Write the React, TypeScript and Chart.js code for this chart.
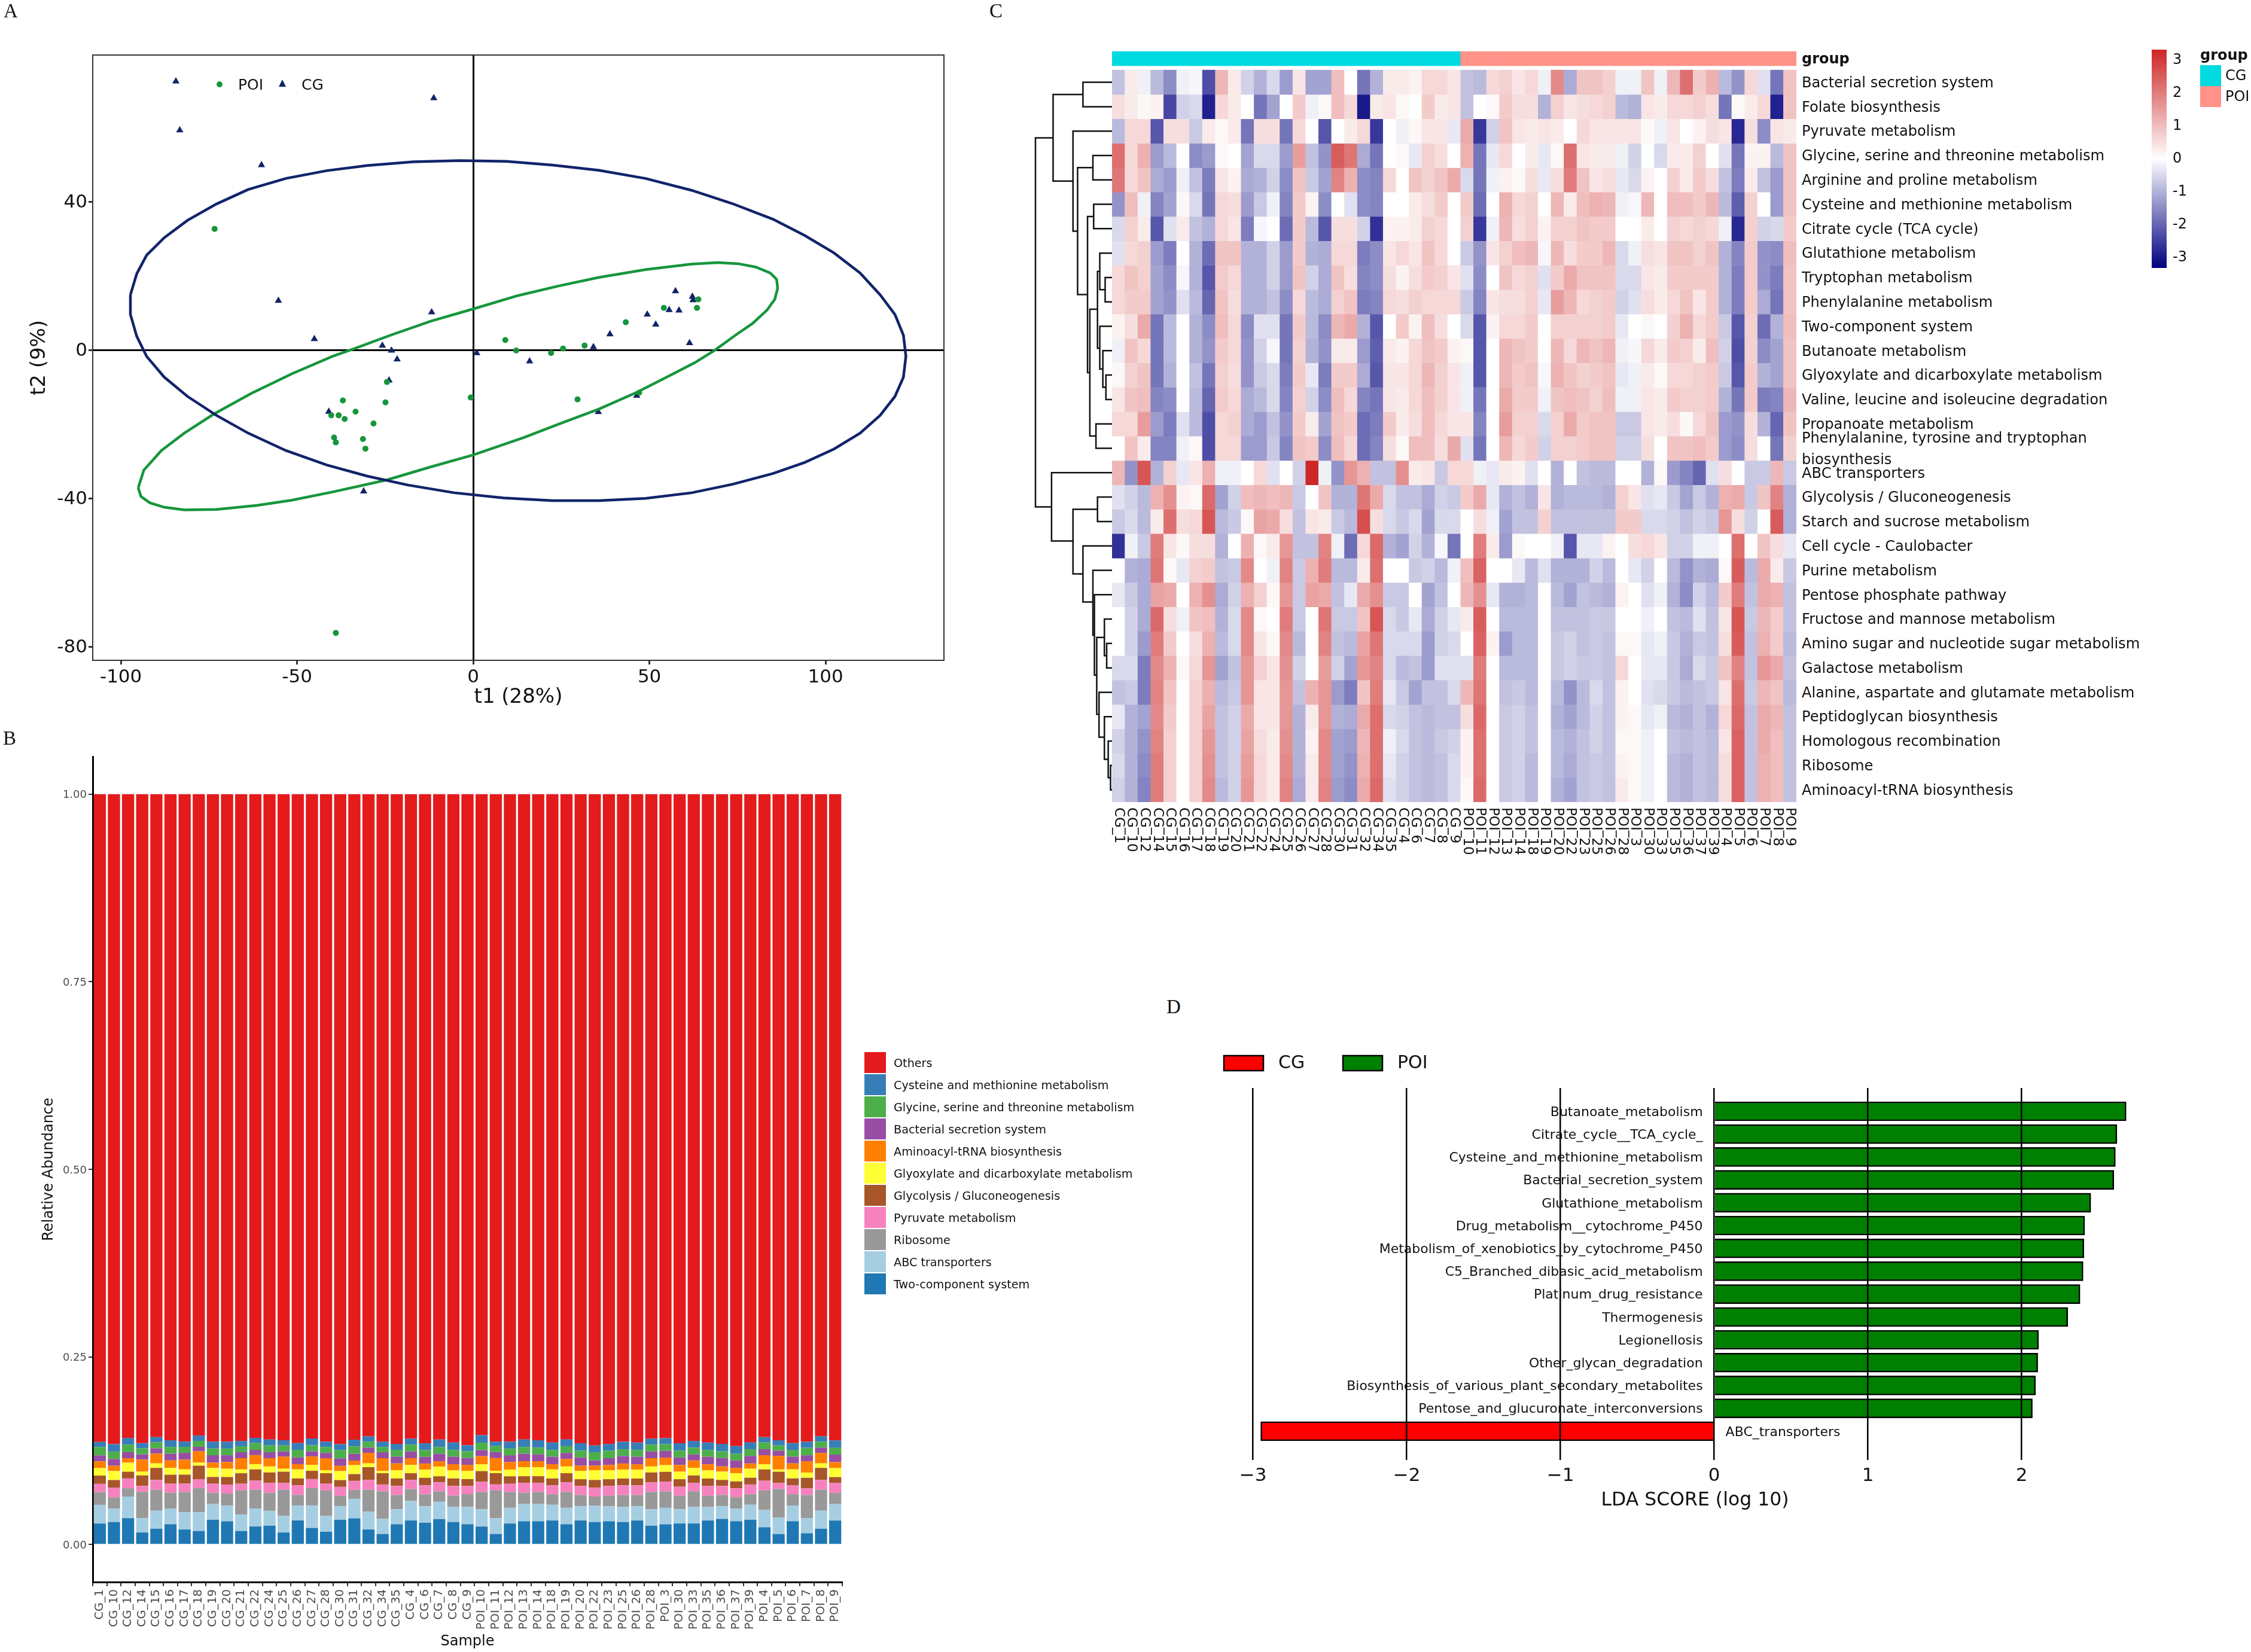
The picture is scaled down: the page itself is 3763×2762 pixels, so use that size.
import React, { useEffect, useRef } from "react";
import { Chart, registerables } from "chart.js";

Chart.register(...registerables);
const FONT = "'DejaVu Sans', sans-serif";
Chart.defaults.font.family = FONT;
Chart.defaults.color = "#000";

/* ---------- Panel A ---------- */
const poiScores = [
  [-73.4, 32.7], [9.1, 2.7], [12.2, -0.1], [22.1, -0.8], [25.5, 0.4], [31.6, 1.2], [43.3, 7.5], [54.1, 11.4], [63.5, 11.4],
  [63.9, 13.7], [29.6, -13.3], [47.1, -11.5], [-0.7, -12.8], [-24.5, -8.6], [-24.9, -14.1], [-37, -13.6], [-33.4, -16.6],
  [-38.2, -17.6], [-36.5, -18.6], [-40.3, -17.6], [-28.3, -19.8], [-39.5, -23.6], [-39, -24.9], [-31.3, -24], [-30.6, -26.6], [-39, -76.3],
];
const cgScores = [
  [-84.4, 72.5], [-83.3, 59.3], [-11.2, 68], [-60.1, 49.9], [-55.3, 13.3], [-45.1, 3], [-11.8, 10.2], [-25.8, 1.2], [-23.2, -0.1],
  [-21.6, -2.5], [1, -0.8], [16, -3], [34.1, 0.8], [38.8, 4.3], [49.4, 9.6], [51.8, 6.9], [55.6, 10.8], [57.4, 15.9], [58.4, 10.7],
  [61.4, 1.9], [62.2, 14.4], [62.4, 13.5], [46.4, -12.3], [35.5, -16.7], [-23.9, -8.2], [-41, -16.6], [-31.1, -38.1],
];
const cgEllipse = [
  [-97.3, 14.9], [-97.3, 9.6], [-95.5, 3.7], [-92.7, -1.7], [-87.7, -7.3], [-81.1, -12.5], [-72.9, -17.6], [-63.9, -22.4], [-53.2, -27.1],
  [-41.6, -31], [-30.1, -34], [-18.6, -36.4], [-5.4, -38.5], [8.6, -39.9], [22.5, -40.6], [35.7, -40.6], [48.9, -40], [62, -38.5],
  [73.6, -36.2], [85.1, -33.3], [94.1, -30.3], [102.4, -26.7], [109.8, -22.4], [115.5, -17.6], [119.7, -12.5], [122.1, -7.3], [122.8, -1.7],
  [122.1, 4], [119.7, 9.6], [115.5, 14.9], [109.8, 20.8], [102.4, 26.2], [94.1, 30.9], [85.1, 35.3], [73.6, 39.5], [62, 43.1], [48.9, 46.3],
  [35.7, 48.5], [22.5, 49.9], [9.4, 50.9], [-3.8, 51.1], [-17, 50.8], [-30.1, 49.8], [-41.6, 48.4], [-53.2, 46.3], [-63.9, 43.3],
  [-72.9, 39.4], [-81.1, 35], [-87.7, 30.3], [-92.7, 25.6], [-95.5, 20.6], [-97.3, 14.9],
];
const poiEllipse = [
  [-95.1, -37.2], [-93.5, -32.4], [-88.5, -27.1], [-82, -22.4], [-73.7, -17.3], [-63, -11.7], [-51.5, -6.4], [-40, -1.7], [-33.4, 0.5],
  [-23.5, 4], [-12, 7.8], [0, 11.1], [12.7, 14.7], [24.2, 17.3], [35.7, 19.6], [48.9, 21.7], [62, 23.2], [69.5, 23.6], [75.2, 23.3],
  [80.2, 22.4], [84.3, 20.8], [86.1, 19.1], [86.4, 16.7], [85.6, 13.7], [83.4, 10.8], [79.3, 7.2], [74.4, 4], [68.6, 0], [62.9, -3.4],
  [55.5, -7], [46.4, -11.4], [35.7, -15.9], [25.8, -19.4], [14.3, -23.6], [0, -28.3], [-12, -31.5], [-24.4, -35], [-40, -38.3],
  [-51.5, -40.5], [-61.4, -41.9], [-72.9, -43], [-82, -43.1], [-87.7, -42.4], [-91.8, -41.2], [-94.3, -39.5], [-95.1, -37.2],
];
const scoreXTicks = [-100, -50, 0, 50, 100];
const scoreYTicks = [-80, -40, 0, 40];

/* ---------- Panel B ---------- */
const barSamples = [
  "CG_1", "CG_10", "CG_12", "CG_14", "CG_15", "CG_16", "CG_17", "CG_18", "CG_19", "CG_20", "CG_21", "CG_22", "CG_24", "CG_25", "CG_26", "CG_27", "CG_28",
  "CG_30", "CG_31", "CG_32", "CG_34", "CG_35", "CG_4", "CG_6", "CG_7", "CG_8", "CG_9",
  "POI_10", "POI_11", "POI_12", "POI_13", "POI_14", "POI_18", "POI_19", "POI_20", "POI_22", "POI_23", "POI_25", "POI_26", "POI_28", "POI_3", "POI_30",
  "POI_33", "POI_35", "POI_36", "POI_37", "POI_39", "POI_4", "POI_5", "POI_6", "POI_7", "POI_8", "POI_9",
];
const twoComponent = [2.8,3.0,3.5,1.6,2.1,2.7,2.0,1.8,3.3,3.1,1.8,2.4,2.5,1.6,3.2,2.2,1.7,3.3,3.5,2.0,1.4,2.7,3.2,2.9,3.4,3.0,2.7,2.4,1.4,2.8,3.1,3.1,3.2,2.7,3.2,3.0,3.1,3.0,3.2,2.5,2.7,2.8,2.8,3.2,3.4,3.1,3.3,2.3,1.4,3.1,1.5,2.1,3.2];
const abcTransporters = [2.5,1.8,2.9,1.9,2.4,2.1,2.3,2.5,2.1,2.1,2.2,2.4,2.0,2.2,2.0,3.0,2.1,1.8,2.6,2.4,2.0,2.0,2.6,2.2,2.3,2.0,2.3,2.3,2.1,2.1,2.3,2.3,2.1,2.2,1.9,2.2,2.0,2.0,1.9,2.2,2.2,1.9,2.2,1.8,1.7,1.7,2.0,2.3,2.2,2.1,2.0,2.4,2.2];
const ribosome = [1.7,1.5,1.1,3.5,2.8,2.1,2.7,3.2,1.5,1.6,3.2,2.5,2.4,3.5,1.4,2.3,3.4,1.4,1.2,2.9,3.7,1.9,1.6,1.6,1.4,1.5,1.7,2.3,3.7,2.1,1.5,1.6,1.4,2.1,1.5,1.2,1.4,1.6,1.5,2.3,2.2,1.8,2.1,1.5,1.5,1.5,1.4,2.6,3.8,1.5,3.1,2.8,1.5];
const pyruvate = [1.1,1.3,1.3,0.8,1.3,1.2,1.1,1.2,1.2,1.2,0.9,1.2,1.3,0.9,1.3,1.2,0.9,1.2,1.2,1.3,0.9,1.2,1.2,1.2,1.2,1.3,1.1,1.4,0.8,1.1,1.3,1.2,1.2,1.3,1.2,1.2,1.3,1.3,1.3,1.3,1.3,1.2,1.1,1.3,1.2,1.2,1.3,1.3,0.8,1.2,0.9,1.3,1.3];
const glycolysis = [1.1,1.0,0.9,1.4,1.6,1.2,1.2,1.8,0.9,1.0,1.4,1.5,1.4,1.5,0.9,1.1,1.4,0.9,0.9,1.7,1.5,1.0,0.9,1.0,0.8,1.0,0.9,1.4,1.5,1.0,0.9,0.9,0.9,1.2,0.9,1.0,0.9,0.9,0.9,1.3,1.3,1.0,1.0,1.0,0.8,0.9,0.9,1.5,1.5,0.9,1.4,1.6,0.8];
const glyoxylate = [1.0,1.2,1.2,0.5,0.6,0.9,0.7,0.4,1.2,1.1,0.5,0.7,0.8,0.4,1.2,0.8,0.4,1.2,1.2,0.5,0.3,1.1,1.1,1.1,1.3,1.1,1.1,0.9,0.3,0.9,1.2,1.2,1.2,0.9,1.1,1.3,1.2,1.2,1.2,0.8,0.9,1.0,1.0,1.1,1.1,1.1,1.2,0.7,0.3,1.2,0.7,0.6,1.2];
const aminoacyl = [0.9,0.7,0.6,1.6,1.3,1.0,1.3,1.5,0.7,0.9,1.5,1.2,1.1,1.6,0.7,1.1,1.6,0.7,0.6,1.4,1.7,0.9,0.9,0.8,0.7,0.8,0.8,1.1,1.7,1.0,0.8,0.8,0.7,1.0,0.7,0.6,0.7,0.8,0.7,1.1,1.0,0.9,1.0,0.8,0.7,0.7,0.7,1.2,1.8,0.8,1.5,1.4,0.8];
const bacterial = [0.8,0.9,0.8,0.7,0.7,0.9,0.9,0.6,1.0,0.9,0.8,0.7,0.8,0.7,0.9,0.7,0.7,1.0,0.9,0.7,0.8,0.9,0.9,0.9,1.0,1.0,0.9,0.8,0.8,0.9,1.0,0.9,1.0,0.8,1.1,0.7,0.9,1.0,1.0,0.9,0.9,1.0,0.8,1.0,1.1,1.0,1.0,0.8,0.7,0.9,0.8,0.7,1.0];
const glycineSer = [1.1,1.0,1.0,0.8,0.8,0.9,0.8,0.8,0.9,0.9,0.8,0.9,0.9,0.8,1.0,0.8,0.8,1.1,1.0,0.8,0.7,0.9,0.9,0.9,0.9,0.9,0.9,1.0,0.8,0.9,0.9,0.9,0.9,0.9,0.9,1.1,1.0,0.9,0.9,0.9,0.9,0.9,0.9,0.9,0.9,0.9,0.9,0.9,0.7,0.9,1.0,0.8,0.9];
const cysteine = [0.7,1.0,0.9,0.7,0.7,0.9,0.7,0.7,0.9,0.9,0.7,0.7,0.8,0.7,0.9,0.9,0.7,0.8,0.9,0.7,0.7,0.8,0.8,0.9,1.0,1.0,0.8,1.0,0.6,0.9,1.0,1.0,1.0,0.9,1.0,0.9,0.9,1.0,1.0,0.8,0.8,1.0,0.9,1.0,1.0,1.0,0.9,0.7,0.7,0.9,0.8,0.7,1.0];
const others = [86.5,86.7,85.8,86.4,85.6,86.1,86.2,85.4,86.3,86.4,86.2,85.7,86.0,86.1,86.4,85.7,86.3,86.8,86.2,85.5,86.3,86.5,85.9,86.6,86.1,86.4,86.6,85.6,86.2,86.4,86.0,86.1,86.4,86.0,86.5,86.8,86.6,86.4,86.5,85.9,86.0,86.5,86.2,86.5,86.5,86.8,86.4,85.7,86.1,86.4,86.4,85.5,86.3];
const barStack = [
  { name: "Two-component system", color: "#1F78B4", values: twoComponent },
  { name: "ABC transporters", color: "#A6CEE3", values: abcTransporters },
  { name: "Ribosome", color: "#999999", values: ribosome },
  { name: "Pyruvate metabolism", color: "#F781BF", values: pyruvate },
  { name: "Glycolysis / Gluconeogenesis", color: "#A65628", values: glycolysis },
  { name: "Glyoxylate and dicarboxylate metabolism", color: "#FFFF33", values: glyoxylate },
  { name: "Aminoacyl-tRNA biosynthesis", color: "#FF7F00", values: aminoacyl },
  { name: "Bacterial secretion system", color: "#984EA3", values: bacterial },
  { name: "Glycine, serine and threonine metabolism", color: "#4DAF4A", values: glycineSer },
  { name: "Cysteine and methionine metabolism", color: "#377EB8", values: cysteine },
  { name: "Others", color: "#E41A1C", values: others },
];
const abundanceTicks = [0, 0.25, 0.5, 0.75, 1];

/* ---------- Panel C ---------- */
const heatColumns = barSamples;
const heatGroupSplit = 27;
const heatRowNames = [
  "Bacterial secretion system", "Folate biosynthesis", "Pyruvate metabolism", "Glycine, serine and threonine metabolism",
  "Arginine and proline metabolism", "Cysteine and methionine metabolism", "Citrate cycle (TCA cycle)", "Glutathione metabolism",
  "Tryptophan metabolism", "Phenylalanine metabolism", "Two-component system", "Butanoate metabolism",
  "Glyoxylate and dicarboxylate metabolism", "Valine, leucine and isoleucine degradation", "Propanoate metabolism",
  ["Phenylalanine, tyrosine and tryptophan", "biosynthesis"], "ABC transporters", "Glycolysis / Gluconeogenesis",
  "Starch and sucrose metabolism", "Cell cycle - Caulobacter", "Purine metabolism", "Pentose phosphate pathway",
  "Fructose and mannose metabolism", "Amino sugar and nucleotide sugar metabolism", "Galactose metabolism",
  "Alanine, aspartate and glutamate metabolism", "Peptidoglycan biosynthesis", "Homologous recombination", "Ribosome",
  "Aminoacyl-tRNA biosynthesis",
];
const heatValues = [
  [-.8,.3,-.2,-.9,-1.5,-.2,-.1,-2.3,1.1,.3,-.6,-1,-.5,-1.3,.4,-1.2,-1.2,1,0,-1.8,-1,.3,.3,.2,.6,.6,.4,-.8,-.9,.6,.7,.4,.6,-.2,1.8,-1.1,.9,.9,.7,-.2,-.2,.9,-.2,1.1,2.2,.8,1.2,-.9,-1.4,.6,-.4,-1.8,.9],
  [.5,.3,.1,.2,-2.4,-.6,-.5,-2.9,.6,.3,0,-1.8,-1.2,0,.8,-.2,.1,1,.6,-3,.3,.4,.1,0,.8,.3,.4,-.8,0,.1,.8,.5,.5,-1,.7,.4,.5,.6,.7,-.9,-1,.4,.3,.6,.6,.7,.5,-1.8,.1,.3,.6,-2.9,.9],
  [-.9,.6,.6,-2.2,.5,.5,-.7,.3,.1,.3,-1.8,.5,.5,-1.8,.6,0,-2.2,0,.3,.6,-2.6,0,-.2,.1,.4,.4,-.3,1.3,-2.6,-.6,.9,.4,.3,.4,.3,0,.6,.4,.4,.4,.4,.1,-.2,.4,0,.2,.5,.4,-2.8,.5,-1.5,.4,.3],
  [2.2,.6,1.2,-1.3,-.9,0,-1.5,-1.3,.1,0,-1.2,-.5,-.5,-1.3,1.5,-.8,-1.4,2.5,2.1,-1.1,-1.8,0,.1,-.3,.7,.5,0,1.2,-1.8,-.3,.6,0,.3,-.3,.1,2.2,.4,.3,.3,-.2,-.6,0,-.5,.3,.3,.7,0,-.4,-1.8,.2,.2,-.9,.9],
  [2.1,.6,.9,-1.1,-1.3,-.2,-.8,-1.7,.4,.2,-1.1,-1,-.6,-1.5,.9,-.7,-1.2,1.9,1.2,-1.5,-1.6,.6,0,.9,.7,.9,1.3,-.5,-1.8,-.2,.2,.1,.5,-.3,.5,2,.9,.4,.5,-.3,-.5,.2,0,.7,.3,.8,.5,-.8,-1.7,.3,-.8,-1.3,.9],
  [-1.4,1,-.2,-1.6,-1.2,.1,-.5,-1.8,.6,.5,-1.3,-.7,-.2,-1.6,.8,.2,-1.5,0,-.4,-1.5,-1.6,0,0,.3,.5,.8,0,.8,-1.9,0,1.2,.6,.7,0,1.1,.3,1,1.2,1.1,-.2,-.1,1.1,0,1,1,.8,1.1,-.9,-2.1,.7,0,-1.3,.9],
  [-.5,.7,.3,-2.2,-.4,.3,-.8,-1,.6,.4,-1.7,-.1,0,-1.9,.8,-.9,-2.2,.5,.5,-.6,-2.7,.2,.2,.3,.7,.6,0,.7,-2.6,-.2,1.1,.5,.7,.2,.7,.7,.9,.8,.8,0,0,.3,0,.7,.6,.7,.6,-.2,-2.8,.7,-.6,-.5,.8],
  [-.4,.6,.7,-1.3,-1.7,0,-1,-1.9,.9,.9,-1,-1,-.6,-1.3,.8,-1,-1.1,.6,.6,-1.7,-1.5,.4,.6,.4,.9,.6,0,-.7,-1.4,.4,.7,1,1.1,-.1,1.1,.5,.8,.8,1.1,-.5,-.2,.5,.4,.9,.9,.7,.9,-1,-1.6,.8,-1.4,-1.5,1],
  [.6,.9,.7,-1.2,-1.5,-.1,-1,-2.2,.8,.6,-1,-1,-.6,-1.3,.9,-.6,-1.1,.9,.5,-1.6,-1.5,.5,.2,.5,.8,.7,.4,-.4,-1.5,0,.9,.6,.7,-.4,.8,1.3,.9,.9,.9,-.5,-.5,.4,.3,.8,.8,.8,.8,-1,-1.7,.8,-1.4,-1.7,.9],
  [.6,.8,.8,-1.2,-1.4,-.4,-.9,-2,.9,.5,-1,-1,-.8,-1.5,.6,-.9,-1.1,.7,.9,-1.7,-1.6,.6,.5,.7,.6,.6,.6,-.7,-1.6,.4,.5,.5,.7,-.3,1.5,1.1,.6,.7,.8,-.6,-.4,.5,.3,.6,.9,.4,.8,-1,-1.7,.8,-1.1,-1.8,.9],
  [.2,.5,1.3,-1.8,-.9,0,-1,-1.5,1,.6,-1.5,-.4,-.4,-1.8,.8,-.9,-1.5,1.1,1.3,-1,-2.2,0,.8,.2,1,.5,0,-.5,-2.2,.2,.6,.6,.8,0,.7,.7,.7,.7,.8,-.3,0,.1,0,.7,1.2,.6,.8,-.7,-2.2,.7,-1.9,-1,1],
  [-.2,.9,.6,-1.8,-.9,0,-1,-1.4,.8,.6,-1.4,-.6,-.1,-1.8,.7,-1,-1.4,.3,.3,-1.3,-2.1,.3,.2,.6,.9,.8,.2,.1,-2.2,0,1.1,.9,.8,0,1.1,.6,1.1,.9,1.1,-.2,-.1,.6,.3,.8,.7,.3,1,-.6,-2.3,.7,-1.5,-1.2,.9],
  [.1,.7,.9,-1.8,-1,0,-.8,-1.8,.7,.5,-1.4,-.7,-.5,-1.7,.8,-.3,-1.7,.8,.8,-1.1,-2.2,.4,.4,.6,1.1,.7,.4,-.2,-2.2,0,1.1,.8,.9,-.1,1.2,.9,.7,.8,.9,-.3,-.2,.3,.1,.6,.6,.7,.8,-.7,-2.2,.8,-1,-1.2,.9],
  [.4,.9,1,-1.6,-1.5,0,-.9,-2,.8,.6,-1.1,-.9,-.5,-1.6,.7,-.6,-1.5,1,.6,-1.6,-1.8,.4,.3,.6,1,.7,.4,-.2,-1.8,0,1.3,.8,.8,-.2,.9,1,.9,.7,1,-.2,-.2,.4,.3,.8,.7,.7,.8,-1,-1.8,.8,-1.7,-1.6,1.1],
  [.6,.6,1.5,-1.3,-1.7,-.4,-.9,-2.3,.6,.7,-1.1,-1.3,-.8,-1.4,.8,.3,-1.2,.9,.8,-1.9,-1.7,.8,.3,.5,1,.6,.4,.4,-1.6,0,1.5,.7,.7,-.5,.7,1.3,.8,.9,.9,-.7,-.7,.4,.3,.5,.1,.6,.9,-1.3,-1.4,.5,-1,-2,.9],
  [0,.9,.3,-1.6,-1.6,-.2,.1,-2.3,.6,.6,-1.3,-1.3,-.7,-1.6,.9,.8,-1.5,1,.6,-1.9,-1.6,.5,.1,1,1,.5,1.3,-.4,-1.8,0,1.1,.6,.8,-.6,.7,.7,.8,.9,.9,-.6,-.6,.5,0,.9,.9,1,.8,-1.3,-1.5,.5,0,-1.8,.7],
  [1.1,-1.4,2.6,-1,.7,-.3,.4,1.2,-.2,-.2,0,.6,-.4,0,-.6,3.3,-.2,-1.4,1.6,1.2,-.8,-.8,1.7,.3,.4,-.7,.6,.6,-.2,-.3,.3,.2,-.4,0,-1,0,-.8,-.9,-.9,0,0,-1,.1,-1.3,-1.6,-2,-.4,.5,0,-.7,-.7,1.1,-.7],
  [-.4,-.6,-.9,1.2,1.7,.2,.1,2.3,-1.2,-.6,1,1.1,1,1.1,-.7,0,.9,-1,-1,2.1,1.3,-.5,-.8,-.8,-1.1,-.6,-.7,.8,1.3,-.3,-1,-.8,-1,.4,-1,-.9,-.9,-.9,-1,.7,.4,-.4,-.3,-.7,-1.2,-.7,-1,1.2,1.3,-.7,.9,1.9,-1],
  [-.7,-.5,-.9,.3,2.2,.5,.6,2.6,-.9,-.7,.1,1.4,1.3,.5,-.8,.4,.3,-.7,-.9,2.7,.5,-.5,-.7,-.5,-1.2,-.5,-.5,0,.5,-.2,-1.2,-.8,-.8,.7,-.8,-.8,-.8,-.8,-.8,.8,.8,-.5,-.5,-.6,-.8,-.6,-.7,1.6,.5,-.6,0,2.5,-1],
  [-2.7,-.2,-.7,2,.4,.1,.5,.5,-1,0,1.2,.1,.3,1.6,-.8,-.8,1.9,-.2,-1.9,.6,2.3,-1,-1.2,-.6,-1,-.1,-1.8,0,2,.3,-1.3,.1,0,0,-.2,-2.2,-.3,-.3,.2,0,.5,.6,.4,-.6,-.6,-.2,-.2,0,2.2,0,.9,.5,-.3],
  [0,-1,-1.1,2.1,.1,-.3,.7,.8,-.8,-.7,1.8,0,-.2,1.9,-.7,1.2,2,-.9,-.9,.3,2.2,0,0,-.7,-.6,-.9,-.2,1,2.4,0,0,-.3,-.9,-.4,-1,-1,-1,-.6,-.9,0,-.3,-.6,0,-.9,-1.4,-1,-1.1,.1,2.5,-.9,1.3,.3,-.7],
  [-.3,-.7,-1.1,1.4,1.3,0,1.2,1.7,-1.1,-.6,1.2,.7,.1,1.6,-.7,1.4,1.3,-.8,-.3,1.3,1.7,-.7,-.7,0,-1.2,-.8,0,1.1,1.7,-.3,-1,-1,-.9,0,-.9,-1.2,-.8,-.9,-1,.2,0,-.4,-.2,-1,-1.5,-.6,-.9,.8,2,-.8,1.3,1.2,-.8],
  [0,-.6,-1.1,2.3,.5,-.2,.9,1,-1,-.5,1.8,.1,0,2,-.7,0,2.1,-.7,-.7,.9,2.6,-.5,-.7,-.3,-1.1,-.6,-.3,.3,2.5,0,-.9,-.9,-.9,0,-.8,-.8,-.8,-.7,-.7,0,0,-.2,0,-.8,-.9,-.4,-.8,.4,2.6,-.7,1.1,.8,-.8],
  [0,-.6,-1.3,2,.8,0,.5,1.2,-.9,-.5,1.8,.4,.1,1.8,-.9,0,1.9,-.8,-.9,1.4,2.1,-.5,-.5,-.5,-1.3,-.6,-.5,0,2.4,.2,-1.3,-.9,-.9,0,-.7,-.6,-.8,-.7,-.8,.1,.1,-.3,-.2,-.7,-1,-.7,-.8,.5,2.5,-.8,1.2,.8,-.9],
  [-.5,-.5,-1.7,1.8,1.2,.1,.6,1.6,-1.2,-.8,1.6,.7,.4,1.7,-.6,0,1.5,-.6,-1.2,1.6,1.9,-.5,-.9,-.8,-1.3,-.4,-.4,-.4,2,0,-.9,-.9,-.9,0,-.7,-.6,-.7,-.7,-.8,.6,0,-.3,-.3,-.7,-1.1,-.5,-.7,.9,1.9,-.8,1.6,1.3,-.8],
  [-.8,-.7,-1.7,1.9,.9,0,.7,1.2,-.9,-.7,1.6,.4,.4,1.6,-.8,1.2,1.6,-1.3,-1.7,.9,2,-.3,-.7,-1.2,-.8,-.8,-.5,1.1,2.1,0,-.8,-.7,-.9,0,-.9,-1.4,-.9,-.5,-.8,.2,0,-.4,-.5,-.7,-.9,-.8,-.7,.4,2.2,-.7,1.1,.9,-.9],
  [-.3,-1,-1.2,1.8,.8,0,.7,1.4,-.8,-.6,1.3,.4,.4,1.6,-1,.3,1.6,-1,-1.1,1.3,2.2,-.5,-.6,-.8,-.9,-.8,-.8,.5,2.3,0,-.7,-.6,-.8,0,-1,-1.2,-.9,-.6,-.8,.2,.1,-.3,-.2,-.9,-1,-.8,-1,.6,2.3,-.8,1.3,1.1,-.8],
  [-.6,-1,-1.4,1.9,.7,0,.7,1.6,-.8,-.6,1.4,.5,.3,1.7,-1,.2,1.8,-1.2,-1.3,1.1,2.2,-.2,-.5,-.8,-.9,-.7,-.6,.2,2.2,0,-.7,-.6,-.8,0,-.9,-1,-.8,-.6,-.8,.1,.1,-.2,0,-.8,-.9,-.8,-.9,.4,2.4,-.8,1.3,1,-.8],
  [-.5,-1,-1.5,2,.7,0,.7,1.7,-.8,-.6,1.5,.6,.3,1.8,-1,.3,1.8,-1.2,-1.4,1.2,2.2,-.3,-.6,-.8,-.9,-.8,-.5,.2,2.2,0,-.7,-.6,-.9,0,-.9,-1.1,-.8,-.7,-.8,.2,.1,-.2,0,-.9,-1,-.8,-.9,.5,2.4,-.8,1.2,1,-.8],
  [-.6,-1,-1.6,2,.7,0,.7,1.8,-.9,-.6,1.6,.6,.3,1.9,-1.1,.3,1.9,-1.3,-1.5,1.3,2.3,-.4,-.6,-.8,-.9,-.8,-.5,.1,2.3,0,-.7,-.6,-.9,0,-1,-1.2,-.8,-.7,-.8,.3,.1,-.2,0,-.9,-1,-.8,-.9,.5,2.4,-.8,1.2,1,-.8],
];
// [merge height, upper branch row, lower branch row, upper child height, lower child height]
const dendroClades = [
  [.38,.5,1.5,0,0],[.25,3.5,4.5,0,0],[.24,5.5,6.5,0,0],[.09,8.5,9.5,0,0],[.16,7.5,9,0,.09],[.08,12.5,13.5,0,0],[.12,11.5,13,0,.08],
  [.16,10.5,12.25,0,.12],[.19,8.25,11.4,.16,.16],[.21,14.5,15.5,0,0],[.29,9.8,15,.19,.21],[.32,6,12.4,.24,.29],[.45,4,9.2,.25,.32],
  [.51,2.5,6.6,0,.45],[.77,1,4.55,.38,.51],[1,2.78,17.9,.77,.79],[.79,16.5,19.3,0,.51],[.51,18,20.65,.19,.38],[.19,17.5,18.5,0,0],
  [.38,19.5,21.8,0,.25],[.25,20.5,23.16,0,.23],[.23,21.5,24.8,0,.2],[.2,23.25,26.4,.1,.17],[.1,22.5,24,0,.07],[.07,23.5,24.5,0,0],
  [.17,25.5,27.34,0,.1],[.1,26.5,28.25,0,.05],[.05,27.5,29,0,.02],[.02,28.5,29.5,0,0],
];
const colorbarTicks = [-3, -2, -1, 0, 1, 2, 3];

/* ---------- Panel D ---------- */
const ldaFeatures = [
  "Butanoate_metabolism", "Citrate_cycle__TCA_cycle_", "Cysteine_and_methionine_metabolism", "Bacterial_secretion_system", "Glutathione_metabolism",
  "Drug_metabolism__cytochrome_P450", "Metabolism_of_xenobiotics_by_cytochrome_P450", "C5_Branched_dibasic_acid_metabolism", "Platinum_drug_resistance",
  "Thermogenesis", "Legionellosis", "Other_glycan_degradation", "Biosynthesis_of_various_plant_secondary_metabolites",
  "Pentose_and_glucuronate_interconversions", "ABC_transporters",
];
const ldaScores = [2.68, 2.62, 2.61, 2.6, 2.45, 2.41, 2.405, 2.4, 2.38, 2.3, 2.11, 2.105, 2.09, 2.07, -2.95];
const ldaTicks = [-3, -2, -1, 0, 1, 2];

/* ---------- helpers ---------- */
const fitX = (h: number) => (s: any) => { s.height = h; s.paddingLeft = 0; s.paddingRight = 0; };
const fitY = (w: number) => (s: any) => { s.width = w; s.paddingTop = 0; s.paddingBottom = 0; };
const setTicks = (vals: number[]) => (s: any) => { s.ticks = vals.map((value) => ({ value })); };

function heatColor(v: number) {
  const t = Math.min(Math.abs(v) / 3.32, 1);
  const end = v < 0 ? [0, 0, 128] : [205, 38, 38];
  const c = end.map((e) => Math.round(255 + (e - 255) * t));
  return `rgb(${c[0]},${c[1]},${c[2]})`;
}
const rowValue = (pts: number[][]) => pts.map(([x, y]) => ({ x, y }));

function useChart(ref: any, make: () => any) {
  useEffect(() => {
    const chart = new Chart(ref.current, make());
    return () => chart.destroy();
  }, []);
}

type Box = { left: number; top: number; width: number; height: number };
function Panel({ box, make }: { box: Box; make: () => any }) {
  const ref = useRef<HTMLCanvasElement>(null);
  useChart(ref, make);
  return (
    <canvas
      ref={ref}
      width={box.width}
      height={box.height}
      style={{ position: "absolute", left: box.left, top: box.top, width: box.width, height: box.height, display: "block" }}
    />
  );
}

/* ---------- A ---------- */
const boxA: Box = { left: 0, top: 0, width: 1660, height: 1220 };
const makeA = () => ({
  type: "scatter",
  data: {
    datasets: [
      { label: "CG ellipse", data: rowValue(cgEllipse), showLine: true, pointRadius: 0, borderColor: "#11246A", borderWidth: 4.5, fill: false },
      { label: "POI ellipse", data: rowValue(poiEllipse), showLine: true, pointRadius: 0, borderColor: "#16963C", borderWidth: 4.5, fill: false },
      { label: "POI", data: rowValue(poiScores), pointStyle: "circle", pointRadius: 5, backgroundColor: "#16963C", borderColor: "#16963C", borderWidth: 0 },
      { label: "CG", data: rowValue(cgScores), pointStyle: "triangle", pointRadius: 7, backgroundColor: "#11246A", borderColor: "#11246A", borderWidth: 0 },
    ],
  },
  options: {
    responsive: false, animation: false, devicePixelRatio: 1,
    layout: { padding: { left: 46, top: 92, right: 82, bottom: 33 } },
    plugins: { legend: { display: false }, tooltip: { enabled: false } },
    scales: {
      x: {
        type: "linear", min: -108, max: 133.6, bounds: "data", afterBuildTicks: setTicks(scoreXTicks), afterFit: fitX(83),
        grid: { color: (c: any) => (c.tick && c.tick.value === 0 ? "#000" : "transparent"), lineWidth: 3, tickColor: "#333", tickLength: 7 },
        border: { display: false },
        ticks: { font: { size: 31 }, color: "#111", padding: 3, maxRotation: 0 },
        title: { display: true, text: "t1 (28%)", font: { size: 34 }, color: "#111", padding: 0 },
      },
      y: {
        type: "linear", min: -83.7, max: 79.6, bounds: "data", afterBuildTicks: setTicks(scoreYTicks), afterFit: fitY(109),
        grid: { color: (c: any) => (c.tick && c.tick.value === 0 ? "#000" : "transparent"), lineWidth: 3, tickColor: "#333", tickLength: 7 },
        border: { display: false },
        ticks: { font: { size: 31 }, color: "#111", padding: 2, labelOffset: 2 },
        title: { display: true, text: "t2 (9%)", font: { size: 34 }, color: "#111", padding: 0 },
      },
    },
  },
  plugins: [{
    id: "frameA",
    afterDraw(chart: any) {
      const { ctx, chartArea: a } = chart;
      ctx.save();
      ctx.strokeStyle = "#333"; ctx.lineWidth = 2;
      ctx.strokeRect(a.left, a.top, a.right - a.left, a.bottom - a.top);
      ctx.fillStyle = "#16963C"; ctx.beginPath(); ctx.arc(367, 141, 5, 0, Math.PI * 2); ctx.fill();
      ctx.fillStyle = "#11246A"; ctx.beginPath(); ctx.moveTo(472, 133); ctx.lineTo(478, 145); ctx.lineTo(466, 145); ctx.closePath(); ctx.fill();
      ctx.fillStyle = "#111"; ctx.font = `25px ${FONT}`; ctx.textBaseline = "middle"; ctx.textAlign = "left";
      ctx.fillText("POI", 398, 143); ctx.fillText("CG", 504, 143);
      ctx.restore();
    },
  }],
});

/* ---------- B ---------- */
const boxB: Box = { left: 0, top: 1240, width: 1900, height: 1522 };
const barTotals = barSamples.map((_, i) => barStack.reduce((sum, s) => sum + s.values[i], 0));
const makeB = () => ({
  type: "bar",
  data: {
    labels: barSamples,
    datasets: barStack.map((s) => ({
      label: s.name, data: s.values.map((v, i) => v / barTotals[i]), backgroundColor: s.color,
      barPercentage: 0.86, categoryPercentage: 1, borderWidth: 0, stack: "all",
    })),
  },
  options: {
    responsive: false, animation: false, devicePixelRatio: 1,
    layout: { padding: { left: 67, top: 25, right: 492, bottom: 3 } },
    plugins: { legend: { display: false }, tooltip: { enabled: false } },
    scales: {
      x: {
        stacked: true, afterFit: fitX(114),
        grid: { display: true, drawOnChartArea: false, tickColor: "#333", tickLength: 7, lineWidth: 2 },
        border: { display: true, color: "#000", width: 3 },
        ticks: { autoSkip: false, minRotation: 90, maxRotation: 90, font: { size: 19.5 }, color: "#4D4D4D", padding: 5 },
        title: { display: true, text: "Sample", font: { size: 24 }, color: "#111", padding: 0 },
      },
      y: {
        stacked: true, min: -0.05, max: 1.05, bounds: "data", afterBuildTicks: setTicks(abundanceTicks), afterFit: fitY(88),
        grid: { display: true, drawOnChartArea: false, tickColor: "#333", tickLength: 7, lineWidth: 2 },
        border: { display: true, color: "#000", width: 3 },
        ticks: { font: { size: 18 }, color: "#4D4D4D", padding: 3, labelOffset: 2, callback: (v: any) => Number(v).toFixed(2) },
        title: { display: true, text: "Relative Abundance", font: { size: 24 }, color: "#111", padding: 0 },
      },
    },
  },
  plugins: [{
    id: "legendB",
    afterDraw(chart: any) {
      const { ctx } = chart;
      ctx.save();
      ctx.font = `19.2px ${FONT}`; ctx.textBaseline = "middle"; ctx.textAlign = "left";
      [...barStack].reverse().forEach((s, i) => {
        const y = 1759 - boxB.top + i * 37;
        ctx.fillStyle = s.color; ctx.fillRect(1445, y, 36, 35);
        ctx.fillStyle = "#111"; ctx.fillText(s.name, 1494, y + 20);
      });
      ctx.restore();
    },
  }],
});

/* ---------- C ---------- */
const boxHeat: Box = { left: 1850, top: 60, width: 1740, height: 1400 };
const annTop = -0.772, annBottom = -0.176;
const makeHeat = () => ({
  type: "bar",
  data: {
    labels: heatColumns,
    datasets: [
      {
        label: "group", data: heatColumns.map(() => [annTop, annBottom]),
        backgroundColor: heatColumns.map((_, c) => (c < heatGroupSplit ? "#00DAE0" : "#FF9289")),
        barPercentage: 1, categoryPercentage: 1, borderWidth: 0, grouped: false,
      },
      ...heatValues.map((row, r) => ({
        label: `row ${r}`, data: row.map(() => [r, r + 1]), backgroundColor: row.map(heatColor),
        barPercentage: 1, categoryPercentage: 1, borderWidth: 0, grouped: false,
      })),
    ],
  },
  options: {
    responsive: false, animation: false, devicePixelRatio: 1,
    layout: { padding: { left: 9, top: 25.7, right: 0, bottom: 119 } },
    plugins: { legend: { display: false }, tooltip: { enabled: false } },
    scales: {
      x: { display: false },
      y: {
        type: "linear", position: "right", reverse: true, min: annTop, max: 30, bounds: "data",
        afterBuildTicks: setTicks([(annTop + annBottom) / 2, ...heatRowNames.map((_, r) => r + 0.5)]), afterFit: fitY(587),
        grid: { display: false, drawTicks: false }, border: { display: false },
        ticks: {
          autoSkip: false, padding: 9, color: "#111", labelOffset: 2,
          font: (c: any) => (c.tick && c.tick.value < 0 ? { size: 24, weight: "bold" } : { size: 24.15, lineHeight: 1.5 }),
          callback: (v: any) => (v < 0 ? "group" : heatRowNames[Math.floor(v)]),
        },
      },
    },
  },
  plugins: [{
    id: "columnLabels",
    afterDraw(chart: any) {
      const { ctx, scales } = chart;
      ctx.save();
      ctx.font = `23px ${FONT}`; ctx.fillStyle = "#111"; ctx.textBaseline = "middle"; ctx.textAlign = "left";
      heatColumns.forEach((name, i) => {
        ctx.save();
        ctx.translate(scales.x.getPixelForValue(i), 1350 - boxHeat.top);
        ctx.rotate(Math.PI / 2);
        ctx.fillText(name, 0, 0);
        ctx.restore();
      });
      ctx.restore();
    },
  }],
});

const boxDendro: Box = { left: 1720, top: 60, width: 145, height: 1300 };
const makeDendro = () => ({
  type: "scatter",
  data: {
    datasets: dendroClades.map(([h, y1, y2, h1, h2], i) => ({
      label: `clade ${i}`,
      data: [{ x: h1, y: y1 }, { x: h, y: y1 }, { x: h, y: y2 }, { x: h2, y: y2 }],
      showLine: true, pointRadius: 0, borderColor: "#111", borderWidth: 2.5, fill: false, clip: false,
    })),
  },
  options: {
    responsive: false, animation: false, devicePixelRatio: 1,
    layout: { padding: { left: 11, top: 57.2, right: 6, bottom: 19 } },
    plugins: { legend: { display: false }, tooltip: { enabled: false } },
    scales: {
      x: { type: "linear", reverse: true, min: 0, max: 1, bounds: "data", display: false },
      y: { type: "linear", reverse: true, min: 0, max: 30, bounds: "data", display: false },
    },
  },
});

const boxBar: Box = { left: 3590, top: 70, width: 173, height: 400 };
const makeBar = () => ({
  type: "bar",
  data: {
    labels: ["scale"],
    datasets: [{
      label: "scale", data: [[-3.32, 3.32]], barPercentage: 1, categoryPercentage: 1, borderWidth: 0,
      backgroundColor: (c: any) => {
        const { ctx, chartArea } = c.chart;
        if (!chartArea) return "#fff";
        const g = ctx.createLinearGradient(0, chartArea.top, 0, chartArea.bottom);
        g.addColorStop(0, "#CD2626"); g.addColorStop(0.5, "#FFFFFF"); g.addColorStop(1, "#000080");
        return g;
      },
    }],
  },
  options: {
    responsive: false, animation: false, devicePixelRatio: 1,
    layout: { padding: { left: 7, top: 13, right: 0, bottom: 22 } },
    plugins: { legend: { display: false }, tooltip: { enabled: false } },
    scales: {
      x: { display: false },
      y: {
        type: "linear", position: "right", min: -3.32, max: 3.32, bounds: "data",
        afterBuildTicks: setTicks(colorbarTicks), afterFit: fitY(141),
        grid: { display: false, drawTicks: false }, border: { display: false },
        ticks: { padding: 10, color: "#111", font: { size: 24 } },
      },
    },
  },
  plugins: [{
    id: "groupLegend",
    afterDraw(chart: any) {
      const { ctx } = chart;
      const ox = boxBar.left, oy = boxBar.top;
      ctx.save();
      ctx.textBaseline = "middle"; ctx.textAlign = "left"; ctx.fillStyle = "#111";
      ctx.font = `bold 24px ${FONT}`; ctx.fillText("group", 3678 - ox, 94 - oy);
      ctx.fillStyle = "#00DAE0"; ctx.fillRect(3678 - ox, 109 - oy, 35, 35);
      ctx.fillStyle = "#FF9289"; ctx.fillRect(3678 - ox, 144 - oy, 35, 35);
      ctx.fillStyle = "#111"; ctx.font = `24px ${FONT}`;
      ctx.fillText("CG", 3720 - ox, 128 - oy); ctx.fillText("POI", 3720 - ox, 163 - oy);
      ctx.restore();
    },
  }],
});

/* ---------- D ---------- */
const boxD: Box = { left: 1960, top: 1740, width: 1780, height: 800 };
const ldaPoints = ldaScores.map((x, y) => ({ x, y }));
const makeD = () => ({
  type: "bar",
  data: {
    datasets: [
      { label: "CG", data: ldaPoints.filter((p) => p.x < 0), backgroundColor: "#FF0000", borderColor: "#000", borderWidth: 2.5, barThickness: 32, grouped: false },
      { label: "POI", data: ldaPoints.filter((p) => p.x > 0), backgroundColor: "#008000", borderColor: "#000", borderWidth: 2.5, barThickness: 32, grouped: false },
    ],
  },
  options: {
    indexAxis: "y", responsive: false, animation: false, devicePixelRatio: 1,
    layout: { padding: { left: 109, top: 79, right: 142, bottom: 12 } },
    plugins: { legend: { display: false }, tooltip: { enabled: false } },
    scales: {
      x: {
        type: "linear", min: -3.1, max: 2.85, bounds: "data", afterBuildTicks: setTicks(ldaTicks), afterFit: fitX(87),
        grid: { color: "#000", lineWidth: 2.5, z: 1, drawTicks: false }, border: { display: false },
        ticks: { font: { size: 31 }, color: "#111", padding: 8, callback: (v: any) => String(v).replace("-", "\u2212") },
        title: { display: true, text: "LDA SCORE (log 10)", font: { size: 31.5 }, color: "#111", padding: 0 },
      },
      y: { type: "linear", reverse: true, min: -1.02, max: 15.26, bounds: "data", offset: false, display: false },
    },
  },
  plugins: [{
    id: "ldaText",
    afterDraw(chart: any) {
      const { ctx, scales } = chart;
      const zero = scales.x.getPixelForValue(0);
      ctx.save();
      ctx.font = `22px ${FONT}`; ctx.fillStyle = "#111"; ctx.textBaseline = "middle";
      ldaFeatures.forEach((name, i) => {
        const neg = ldaScores[i] < 0;
        ctx.textAlign = neg ? "left" : "right";
        ctx.fillText(name, zero + (neg ? 19 : -19), scales.y.getPixelForValue(i) + 2);
      });
      const ox = boxD.left, oy = boxD.top;
      ctx.lineWidth = 2.5; ctx.strokeStyle = "#000";
      ctx.fillStyle = "#FF0000"; ctx.fillRect(2046 - ox, 1765 - oy, 66, 25); ctx.strokeRect(2046 - ox, 1765 - oy, 66, 25);
      ctx.fillStyle = "#008000"; ctx.fillRect(2245 - ox, 1765 - oy, 66, 25); ctx.strokeRect(2245 - ox, 1765 - oy, 66, 25);
      ctx.fillStyle = "#111"; ctx.font = `30px ${FONT}`; ctx.textAlign = "left";
      ctx.fillText("CG", 2137 - ox, 1778 - oy); ctx.fillText("POI", 2336 - ox, 1778 - oy);
      ctx.restore();
    },
  }],
});

const letterStyle = (left: number, top: number): React.CSSProperties => ({
  position: "absolute", left, top, font: "33px 'Liberation Serif', serif", color: "#111", lineHeight: "36px",
});

export default function App() {
  useEffect(() => {
    document.body.style.margin = "0";
    document.body.style.background = "#fff";
  }, []);
  return (
    <div style={{ position: "relative", width: 3763, height: 2762, background: "#fff", overflow: "hidden" }}>
      <Panel box={boxA} make={makeA} />
      <Panel box={boxB} make={makeB} />
      <Panel box={boxDendro} make={makeDendro} />
      <Panel box={boxHeat} make={makeHeat} />
      <Panel box={boxBar} make={makeBar} />
      <Panel box={boxD} make={makeD} />
      <div style={letterStyle(6, 0)}>A</div>
      <div style={letterStyle(5, 1216)}>B</div>
      <div style={letterStyle(1654, 0)}>C</div>
      <div style={letterStyle(1950, 1665)}>D</div>
    </div>
  );
}
